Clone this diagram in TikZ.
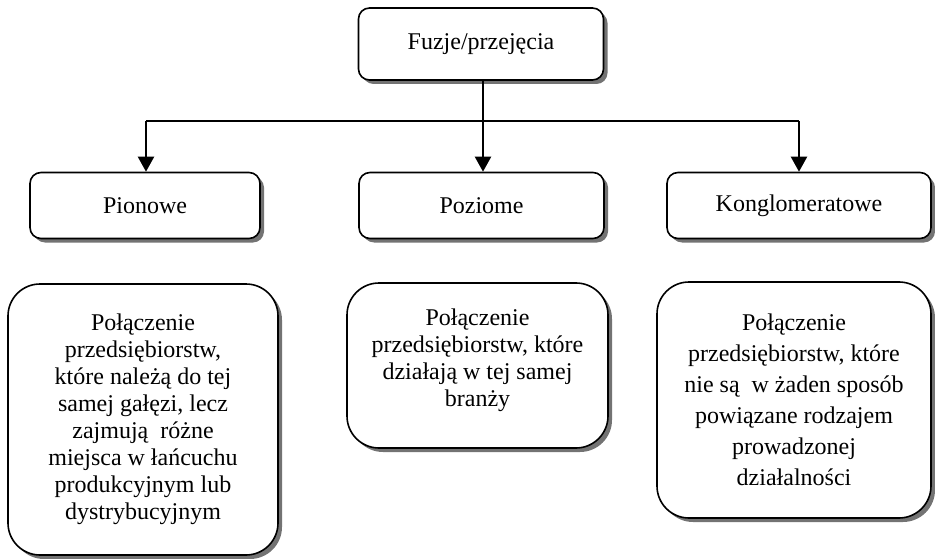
\documentclass[tikz,border=0pt]{standalone}
\usepackage{fontspec}
\setmainfont{Liberation Serif}
\usetikzlibrary{arrows.meta,shadows}

\tikzset{
  pole/.style={draw, line width=1.6pt, fill=white, rounded corners=11pt,
    align=center, font=\fontsize{24}{27}\selectfont,
    drop shadow={shadow xshift=4pt, shadow yshift=-4pt, fill=black!55, opacity=1}},
  opis/.style={pole, rounded corners=32pt},
  linia/.style={line width=2.2pt},
  strz/.style={linia, -{Triangle[width=16pt,length=15pt]}}
}

\begin{document}
\begin{tikzpicture}[x=1pt,y=-1pt]

  \useasboundingbox (0,0) rectangle (935,559);

  \node[pole, minimum width=245pt, minimum height=72pt] (fuz) at (481,44) {Fuzje/przejęcia};

  \node[pole, minimum width=230pt, minimum height=66pt] (pion) at (145,205.5) {Pionowe};

  \node[pole, minimum width=245pt, minimum height=66pt] (poz) at (481.5,205.5) {Poziome};

  \node[pole, minimum width=264pt, minimum height=66pt] (kong) at (799,205.5) {Konglomeratowe};

  \node[opis, minimum width=270pt, minimum height=271pt] (opPion) at (143,419.5)
    {Połączenie\\ przedsiębiorstw,\\ które należą do tej\\ samej gałęzi, lecz\\
     zajmują\ \ różne\\ miejsca w łańcuchu\\ produkcyjnym lub\\ dystrybucyjnym};

  \node[opis, minimum width=261pt, minimum height=165pt] (opPoz) at (477.5,365.5)
    {Połączenie\\ przedsiębiorstw, które\\ działają w tej samej\\ branży\\[-11pt]};

  \node[opis, minimum width=274pt, minimum height=236pt,
        font=\fontsize{24}{31}\selectfont] (opKong) at (794,400)
    {Połączenie\\ przedsiębiorstw, które\\ nie są\ \ w żaden sposób\\
     powiązane rodzajem\\ prowadzonej\\ działalności};

  \coordinate (lewy) at (146,121);
  \coordinate (srod) at (483,121);
  \coordinate (prawy) at (799,121);

  % Arrows
  \draw[linia] (srod |- fuz.south) -- (srod);
  \draw[linia] (lewy) -- (prawy);
  \draw[strz] (lewy) -- (lewy |- pion.north);
  \draw[strz] (srod) -- (srod |- poz.north);
  \draw[strz] (prawy) -- (prawy |- kong.north);

\end{tikzpicture}
\end{document}
